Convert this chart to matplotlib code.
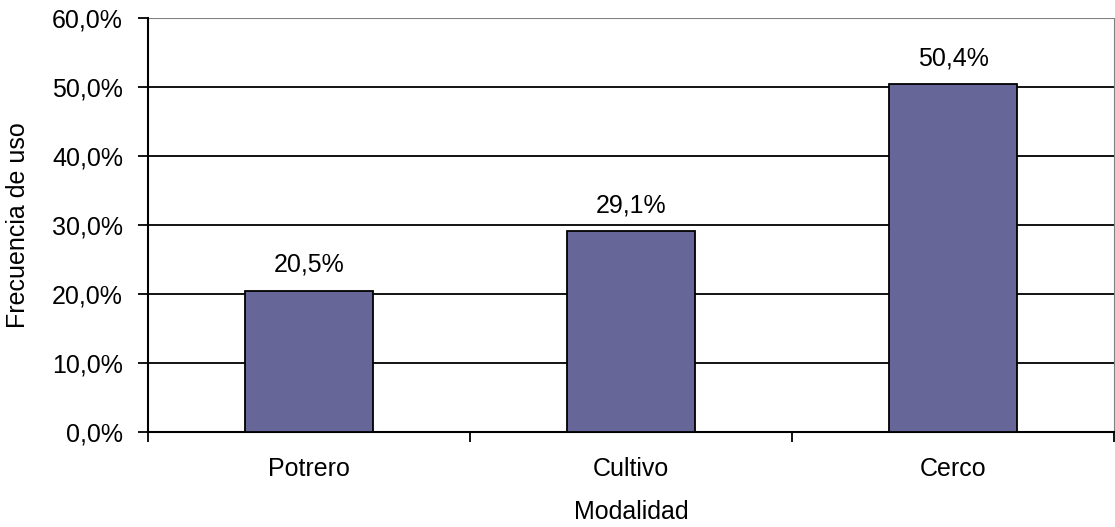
import matplotlib.pyplot as plt
from matplotlib.ticker import FuncFormatter

plt.rcParams['font.family'] = ['Liberation Sans', 'DejaVu Sans']

categorias = ['Potrero', 'Cultivo', 'Cerco']
frecuencia = [20.5, 29.1, 50.4]
y_ticks = [0, 10, 20, 30, 40, 50, 60]

fs = 18

fig = plt.figure(figsize=(11.15, 5.27), dpi=100)
ax = fig.add_axes([148 / 1115, 1 - 432 / 527, 966 / 1115, 414 / 527])

x = range(len(categorias))
ax.bar(x, frecuencia, width=0.4, color='#666699', edgecolor='black',
       linewidth=1.3, zorder=3)

for xi, v in zip(x, frecuencia):
    ax.text(xi, v + 2.0, f'{v:.1f}%'.replace('.', ','), ha='center',
            va='bottom', fontsize=fs)

ax.set_xlim(-0.5, len(categorias) - 0.5)
ax.set_ylim(0, 60)
ax.set_yticks(y_ticks)
ax.yaxis.set_major_formatter(FuncFormatter(lambda v, p: f'{v:.1f}%'.replace('.', ',')))
for t in y_ticks[1:-1]:
    ax.axhline(t, color='black', linewidth=1.3, zorder=1)
ax.axhline(60, color='#808080', linewidth=1.5, zorder=1)

# category ticks sit on the boundaries between bars
ax.set_xticks([i - 0.5 for i in range(len(categorias) + 1)], minor=False)
ax.set_xticklabels([])
ax.set_xticks(list(x), minor=True)
ax.set_xticklabels(categorias, minor=True, fontsize=fs)
ax.tick_params(axis='x', which='minor', length=0, pad=18)
ax.tick_params(axis='x', which='major', length=7, width=1.3, direction='out')
ax.tick_params(axis='y', length=7, width=1.3, direction='out', labelsize=fs, pad=11)

ax.spines['top'].set_visible(False)
ax.spines['right'].set_color('#808080')
ax.spines['left'].set_linewidth(1.5)
ax.spines['bottom'].set_linewidth(1.5)

ax.set_ylabel('Frecuencia de uso', fontsize=fs, labelpad=16)
ax.set_xlabel('Modalidad', fontsize=fs, labelpad=14)

fig.savefig('out.png', dpi=100)
